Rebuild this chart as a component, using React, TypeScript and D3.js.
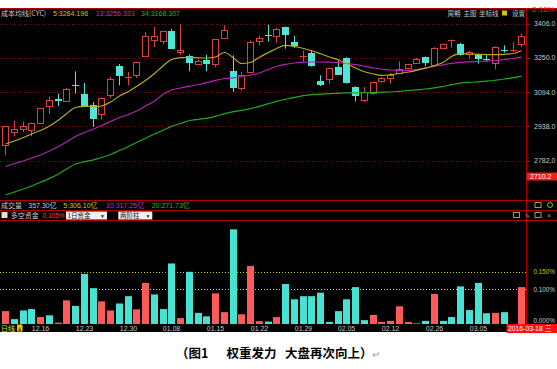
import React from 'react';
import * as d3 from 'd3';

const W = 557;
const H = 369;

// ---- candle data (index 0..59) ----
const openP = [2854.9, 2912.5, 2925, 2920, 2953.5, 3030.8, 3062.6, 3052, 3130.5, 3083.8,
  3033.8, 2992.9, 3079.3, 3211.2, 3161.5, 3170.3, 3256.7, 3331, 3324.9, 3370.4,
  3275, 3256.7, 3220.3, 3241.5, 3223.3, 3341.6, 3188.5, 3112.7, 3185.4, 3324.9,
  3353.5, 3349.2, 3390.1, 3321.9, 3257.5, 3271.8, 3144.5, 3155.1, 3208.2, 3249.1,
  3117.2, 3056.6, 3089.9, 3143, 3158.1, 3182.4, 3205.1, 3227.9, 3253.6, 3218.8,
  3296.1, 3331.5, 3314.3, 3265.8, 3261.2, 3246.1, 3227.9, 3288, 3286, 3311.2];
const highP = [2940, 2962.6, 2961, 2955, 3022, 3074.8, 3086.9, 3112.7, 3188.5, 3135.4,
  3049, 3070, 3162.7, 3221.8, 3185.4, 3232, 3367.3, 3390.1, 3374, 3382.5,
  3405, 3264, 3243, 3264.3, 3335, 3397.7, 3261.2, 3185.4, 3329, 3352.2,
  3400.7, 3385, 3392, 3349.2, 3284, 3284, 3170.3, 3206, 3238.5, 3252,
  3120, 3117.2, 3142, 3163, 3180.9, 3233.9, 3223, 3250.6, 3255, 3298,
  3314, 3333, 3318, 3280.9, 3268.8, 3261.2, 3302, 3306.7, 3321.9, 3359.8];
const lowP = [2806.4, 2892.8, 2912, 2893, 2951, 2994.4, 3029.3, 3050, 3086.9, 3029,
  2935.3, 2970, 3067.3, 3124.8, 3124.8, 3158.1, 3255, 3299.1, 3311.2, 3290,
  3264.3, 3188.5, 3216, 3188.5, 3206.6, 3340, 3094.5, 3100.5, 3184, 3306.7,
  3324.9, 3318.8, 3291.5, 3294.6, 3231, 3210, 3121.8, 3129.3, 3172, 3133,
  3052, 3049, 3082.3, 3137, 3132.4, 3180, 3197.6, 3227, 3212.7, 3217,
  3291.5, 3296.1, 3260, 3246.1, 3223.3, 3231, 3197.6, 3273.4, 3276.4, 3299.1];
const closeP = [2938.3, 2924.7, 2938, 2953.5, 3020, 3059.6, 3055, 3106.6, 3128.5, 3030.8,
  2970.1, 3068.7, 3152.1, 3167.3, 3163.5, 3230.9, 3347.6, 3349.2, 3371.9, 3291.5,
  3284, 3227.9, 3235.4, 3220.3, 3334, 3374.9, 3112.7, 3170.3, 3321.9, 3340.1,
  3351.5, 3382.5, 3352.2, 3303.7, 3259, 3211.2, 3127.8, 3203.6, 3173.3, 3135.4,
  3076.3, 3094.5, 3139.9, 3158.1, 3170.3, 3200.6, 3220.3, 3243, 3226.4, 3296.1,
  3311.2, 3333, 3261.2, 3276.4, 3246.1, 3238.5, 3299.1, 3286.5, 3287.5, 3349.2];

// ---- cost moving averages ----
const ma5 = [2858, 2871.6, 2887.5, 2903.5, 2919.4, 2939.9, 2967.1, 2995.8, 3024, 3029.4,
  3027.6, 3030.8, 3049, 3076.3, 3096.8, 3119.5, 3146.8, 3178.6, 3215, 3242.3,
  3250.9, 3252.3, 3250, 3249.1, 3253.7, 3274.1, 3249.1, 3224.1, 3228.6, 3252.7,
  3274.1, 3292.3, 3306.9, 3301.4, 3292.3, 3281.9, 3268.2, 3253.7, 3240.9, 3224.1,
  3203.6, 3186.4, 3176.3, 3170.4, 3173.2, 3178.6, 3185.4, 3193.2, 3202.7, 3215,
  3230, 3255.9, 3268.7, 3267.3, 3265.5, 3264.6, 3264.6, 3265.9, 3269.6, 3282];
const ma13 = [2755.7, 2769.3, 2780.7, 2794.3, 2808, 2826.2, 2846.6, 2867.1, 2892.1, 2910.3,
  2926.2, 2942.1, 2960.3, 2978.5, 2992.2, 3008.1, 3030.8, 3053.6, 3085.4, 3103.6,
  3112.7, 3120.9, 3128.6, 3136.8, 3147.7, 3155.9, 3159.1, 3165, 3170.9, 3180.9,
  3196.8, 3210.5, 3220.5, 3226.4, 3230, 3230.9, 3230.9, 3230, 3228.2, 3224.1,
  3219.1, 3211.8, 3203.6, 3199.1, 3194.5, 3193.2, 3193.2, 3196.8, 3204.5, 3211.4,
  3218.2, 3225, 3229.6, 3231.8, 3233.7, 3235, 3237.7, 3242.3, 3246.8, 3254];
const ma34 = [2626, 2639.7, 2653.3, 2667, 2683.8, 2701.5, 2722, 2744.3, 2767, 2777.5,
  2786.1, 2796.6, 2810.2, 2828.4, 2846.6, 2864.8, 2884.4, 2903.5, 2921.7, 2938,
  2951.2, 2964.9, 2970.3, 2974.9, 2983.5, 2995.8, 3005.3, 3011.3, 3019, 3029.4,
  3041.3, 3051.7, 3061.3, 3070.4, 3078.1, 3082.7, 3084.5, 3086.8, 3088.6, 3090.4,
  3090.9, 3091.8, 3092.7, 3093.6, 3094.5, 3097.7, 3101.3, 3104.5, 3108.1, 3113.6,
  3120, 3127.7, 3135, 3138.6, 3140.9, 3143.6, 3148.2, 3153.6, 3159.5, 3167];

// ---- 多空资金 (% , sign: + red / - cyan) ----
const flow = [0.037, -0.014, -0.039, -0.043, 0.020, -0.025, 0.004, 0.068, -0.052, -0.144,
  -0.103, 0.065, 0.039, -0.059, -0.080, 0.042, 0.118, -0.085, -0.043, -0.174,
  0.017, -0.150, -0.032, -0.022, 0.088, 0.034, -0.272, 0.028, 0.167, 0.008,
  -0.007, 0.020, -0.115, -0.071, -0.080, -0.080, -0.090, -0.006, -0.037, -0.071,
  -0.106, -0.011, 0.026, 0.006, 0.009, 0.051, 0.006, 0.002, -0.009, 0.086,
  -0.009, -0.020, -0.108, -0.040, -0.118, -0.031, 0.032, -0.034, 0, 0.106];

const dateLabels = ['12.16', '12.23', '12.30', '01.08', '01.15', '01.22', '01.29', '02.05', '02.12', '02.26', '03.05'];
const dateLabelIdx = [4, 9, 14, 19, 24, 29, 34, 39, 44, 49, 54];
const priceTicks = [3406.0, 3250.0, 3094.0, 2938.0, 2782.0];
const lastPrice = 2710.2;
const flowTicks = [0.15, 0.1, 0];

const RED = '#d8423f';
const CYAN = '#4fe6d6';
const BAR_RED = '#ff5a5a';
const BAR_CYAN = '#46e2d2';
const YEL = '#b8aa22';
const MAG = '#b424b4';
const GRN = '#22a822';
const GRAY = '#c8c8c8';
const NUMF = "'Liberation Sans', Arial, 'Noto Sans CJK SC', sans-serif";
const CJKF = "'Noto Sans CJK SC', 'Liberation Sans', sans-serif";

export default function App() {
  const n = openP.length;
  const x = d3.scaleBand<number>().domain(d3.range(n)).range([1.125, 526.125]).paddingInner(0.2).paddingOuter(0.1);
  const bw = Math.round(x.bandwidth());
  const y = d3.scaleLinear().domain([lastPrice, 3406]).range([176.5, 23.5]);
  const fy = d3.scaleLinear().domain([0, 0.15]).range([324, 271.8]);
  const L = (i: number) => Math.round(x(i) as number);
  const cx = (i: number) => L(i) + 3.5;

  const mkLine = (arr: number[]) =>
    d3.line<number>().x((_, i) => cx(i)).y((v) => y(v)).curve(d3.curveMonotoneX)(arr) || '';

  const candles = d3.range(n).map((i) => {
    const o = openP[i], c = closeP[i], h = highP[i], l = lowP[i];
    const up = c >= o;
    const col = up ? RED : CYAN;
    const yT = y(Math.max(o, c)), yB = y(Math.min(o, c));
    const l0 = L(i);
    const wx = l0 + 3.5;
    const doji = yB - yT < 1.5;
    if (doji) {
      return (
        <g key={i}>
          <line x1={wx} x2={wx} y1={y(h)} y2={y(l)} stroke={col} strokeWidth={1} />
          <line x1={l0} x2={l0 + bw} y1={Math.round(y(c)) + 0.5} y2={Math.round(y(c)) + 0.5} stroke={col} strokeWidth={1} />
        </g>
      );
    }
    if (up) {
      const t = Math.round(yT) + 0.5, b = Math.round(yB) + 0.5;
      return (
        <g key={i}>
          <line x1={wx} x2={wx} y1={y(h)} y2={t} stroke={col} />
          <line x1={wx} x2={wx} y1={b} y2={y(l)} stroke={col} />
          <rect x={l0 + 0.5} y={t} width={bw - 1} height={b - t} fill="#000" stroke={col} strokeWidth={1} />
        </g>
      );
    }
    return (
      <g key={i}>
        <line x1={wx} x2={wx} y1={y(h)} y2={y(l)} stroke={col} />
        <rect x={l0} y={Math.round(yT)} width={bw} height={Math.max(1, Math.round(yB) - Math.round(yT))} fill={col} />
      </g>
    );
  });

  const bars = flow.map((v, i) => {
    const a = Math.abs(v);
    if (a <= 0) return null;
    const top = fy(a);
    return <rect key={i} x={L(i)} y={top} width={bw} height={324 - top} fill={v >= 0 ? BAR_RED : BAR_CYAN} />;
  });

  return (
    <svg width={W} height={H} viewBox={`0 0 ${W} ${H}`}
      style={{ position: 'absolute', left: 0, top: 0, display: 'block', background: '#fff' }}>
      <defs>
        <clipPath id="topclip"><rect x={0} y={7} width={W} height={20} /></clipPath>
      </defs>
      <rect x={0} y={0} width={W} height={H} fill="#fff" />
      <rect x={0} y={8} width={W} height={324} fill="#000" />
      <line x1={0} x2={W} y1={8.5} y2={8.5} stroke="#b00000" />

      {/* price grid */}
      {priceTicks.map((p) => (
        <g key={p}>
          <line x1={0} x2={526} y1={Math.round(y(p)) + 0.5} y2={Math.round(y(p)) + 0.5} stroke="#8a0000" strokeDasharray="1,2" />
          <line x1={526} x2={530} y1={Math.round(y(p)) + 0.5} y2={Math.round(y(p)) + 0.5} stroke="#b00000" />
          <text x={534} y={y(p) + 2.5} fontSize={7} fontFamily={NUMF} fill={GRAY}>{p.toFixed(1)}</text>
        </g>
      ))}

      {candles}

      <path d={mkLine(ma34)} fill="none" stroke={GRN} strokeWidth={1.2} />
      <path d={mkLine(ma13)} fill="none" stroke={MAG} strokeWidth={1.2} />
      <path d={mkLine(ma5)} fill="none" stroke={YEL} strokeWidth={1.2} />

      {/* last price tag */}
      <rect x={527} y={y(lastPrice) - 4} width={30} height={8} fill="#ff1a1a" />
      <text x={530} y={y(lastPrice) + 2.5} fontSize={7} fontFamily={NUMF} fill="#fff">{lastPrice.toFixed(1)}</text>

      {/* header */}
      <text x={1} y={16} fontSize={7} fontFamily={CJKF} fill={GRAY}>成本均线(CYC)</text>
      <text x={53} y={16} fontSize={7} fontFamily={NUMF} fill="#c8c800">5:3284.196</text>
      <text x={95.7} y={16} fontSize={7} fontFamily={NUMF} fill="#c030c0">13:3256.333</text>
      <text x={141} y={16} fontSize={7} fontFamily={NUMF} fill="#30b030">34:3168.307</text>
      <text x={447.5} y={16} fontSize={6.5} fontFamily={CJKF} fill={GRAY}>周期</text>
      <text x={463.5} y={16} fontSize={6.5} fontFamily={CJKF} fill={GRAY}>主图</text>
      <text x={479} y={16} fontSize={6.5} fontFamily={CJKF} fill={GRAY}>坐标线</text>
      <rect x={502} y={10.5} width={5} height={5} fill="#c8c800" />
      <text x={512} y={16} fontSize={6.5} fontFamily={CJKF} fill={GRAY}>设置</text>
      <g clipPath="url(#topclip)">
        <text x={532} y={12} fontSize={8} fontFamily={NUMF} fill="#ff2020">2.16%</text>
      </g>

      {/* vertical divider */}
      <line x1={526.5} x2={526.5} y1={9} y2={324} stroke="#b00000" />

      {/* panel separators */}
      <line x1={0} x2={W} y1={200.5} y2={200.5} stroke="#b00000" />
      <line x1={0} x2={W} y1={210.5} y2={210.5} stroke="#b00000" />
      <line x1={0} x2={W} y1={220.5} y2={220.5} stroke="#b00000" />

      {/* volume row */}
      <text x={1} y={208} fontSize={7} fontFamily={CJKF} fill={GRAY}>成交量</text>
      <text x={28.3} y={208} fontSize={7} fontFamily={NUMF} fill={GRAY}>357.30亿</text>
      <text x={63.3} y={208} fontSize={7} fontFamily={NUMF} fill="#c8c800">5:306.10亿</text>
      <text x={106} y={208} fontSize={7} fontFamily={NUMF} fill="#c030c0">10:317.25亿</text>
      <text x={151.7} y={208} fontSize={7} fontFamily={NUMF} fill="#30b030">20:271.73亿</text>
      <rect x={535} y={202.5} width={6} height={5} fill="none" stroke="#a0a040" />
      <circle cx={550} cy={205} r={2.5} fill="none" stroke="#80c040" />

      {/* capital flow row */}
      <rect x={1.5} y={212} width={6} height={6} fill="#e8e0c0" />
      <text x={10.7} y={218} fontSize={7} fontFamily={CJKF} fill={GRAY}>多空资金</text>
      <text x={42.5} y={218} fontSize={6.5} fontFamily={NUMF} fill="#ff4040">0.105%</text>
      <rect x={66} y={211.5} width={41} height={8} fill="#f0f0f0" />
      <text x={67.5} y={218} fontSize={6.5} fontFamily={CJKF} fill="#202020">1日资金</text>
      <text x={100} y={218} fontSize={5} fontFamily={NUMF} fill="#202020">▼</text>
      <rect x={118.3} y={211.5} width={34} height={8} fill="#f0f0f0" />
      <text x={120} y={218} fontSize={6.5} fontFamily={CJKF} fill="#202020">两阶柱</text>
      <text x={145.5} y={218} fontSize={5} fontFamily={NUMF} fill="#202020">▼</text>
      <rect x={513.5} y={212.5} width={6} height={5} fill="none" stroke="#a0a040" />
      <text x={524.5} y={218} fontSize={6} fontFamily={NUMF} fill="#a0a040">✎</text>
      <rect x={535} y={212.5} width={6} height={5} fill="none" stroke="#a0a040" />
      <text x={547} y={218} fontSize={7} fontFamily={NUMF} fill="#a0a040">×</text>

      {/* flow reference lines */}
      <line x1={0} x2={526} y1={Math.round(fy(0.15)) + 0.5} y2={Math.round(fy(0.15)) + 0.5} stroke="#c8c800" strokeDasharray="1,2" />
      <line x1={0} x2={526} y1={Math.round(fy(0.1)) + 0.5} y2={Math.round(fy(0.1)) + 0.5} stroke="#d0d0d0" strokeDasharray="1,2" />
      {flowTicks.map((t) => (
        <text key={t} x={533.5} y={t === 0 ? 322.5 : fy(t) + 2.5} fontSize={6.3} fontFamily={NUMF}
          fill={t === 0.15 ? '#c8c800' : GRAY}>{t.toFixed(3)}%</text>
      ))}

      {bars}

      {/* date axis */}
      <rect x={0} y={324} width={W} height={8} fill="#000" />
      <text x={1} y={331} fontSize={7} fontFamily={CJKF} fill="#e0e000">日线</text>
      <rect x={17} y={324.5} width={5.5} height={7} fill="#e0d000" />
      <path d="M18.2,331 L19.7,326.5 L21.2,331 Z" fill="#d02020" />
      {dateLabels.map((d, k) => (
        <text key={d} x={cx(dateLabelIdx[k])} y={331} fontSize={7} fontFamily={NUMF} fill={GRAY} textAnchor="middle">{d}</text>
      ))}
      <rect x={506.5} y={324} width={W - 506.5} height={9} fill="#ff1010" />
      <text x={508} y={331} fontSize={6.8} fontFamily={NUMF} fill="#fff">2016-03-18 三</text>

      {/* caption */}
      <text x={176} y={358} fontSize={12.5} fontWeight="bold" fontFamily={CJKF} fill="#000">（图1</text>
      <text x={226.5} y={358} fontSize={12.5} fontWeight="bold" fontFamily={CJKF} fill="#000">权重发力</text>
      <text x={285} y={358} fontSize={12.5} fontWeight="bold" fontFamily={CJKF} fill="#000">大盘再次向上）</text>
      <text x={372} y={358} fontSize={10} fontFamily={CJKF} fill="#a0a0a0">↵</text>
    </svg>
  );
}
